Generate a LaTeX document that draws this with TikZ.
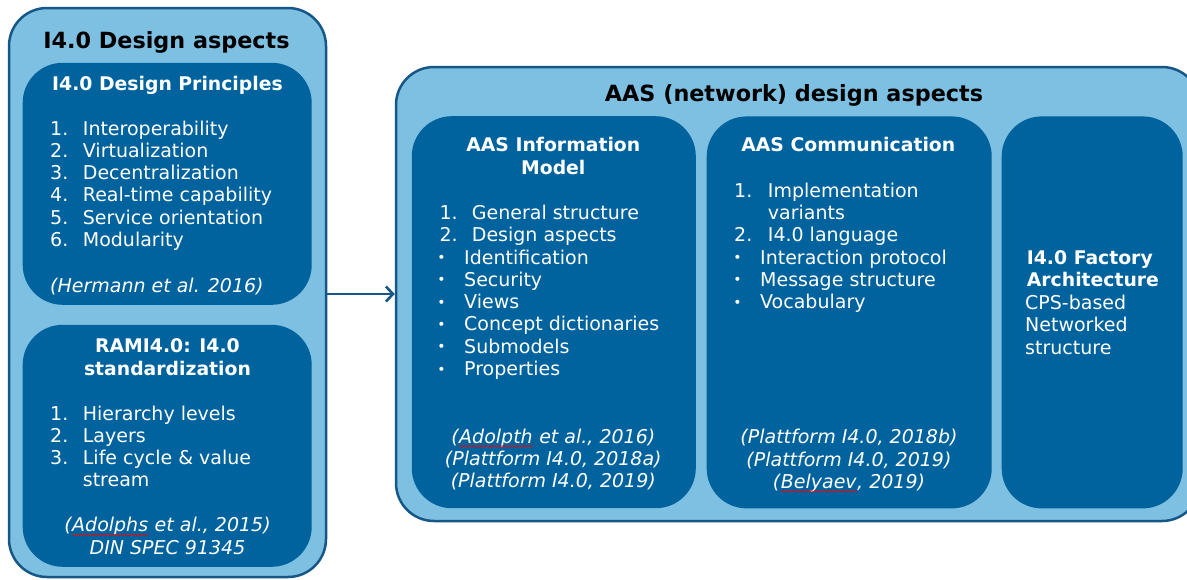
\documentclass[tikz,border=0pt]{standalone}
\usepackage{fontspec}
\setmainfont{DejaVu Sans}
\usetikzlibrary{arrows.meta,decorations.pathmorphing}

\definecolor{paneblue}{RGB}{126,192,225}
\definecolor{cardblue}{RGB}{0,99,158}
\definecolor{edgeblue}{RGB}{22,87,135}

% word flagged by the spell checker: white text, red wavy underline
\newcommand{\spellmark}[1]{\begin{tikzpicture}[baseline=(w.base)]
  \node[inner sep=0pt, text=white, anchor=base] (w) at (0,0) {#1};
  \draw[red, line width=0.6pt, decorate, decoration={snake, amplitude=0.7pt, segment length=3pt}]
    ([yshift=-3pt]w.base west) -- ([yshift=-3pt]w.base east);
\end{tikzpicture}}

\tikzset{
  pane/.style={draw=edgeblue, line width=2.5pt, fill=paneblue, rounded corners=38pt, inner sep=0pt},
  card/.style={fill=cardblue, rounded corners=40pt, inner sep=0pt},
  ttl/.style={font=\fontsize{22.3}{26}\selectfont\bfseries, text=black, inner sep=0pt, anchor=base},
  hdr/.style={font=\fontsize{18.8}{22.3}\selectfont\bfseries, text=white, inner sep=0pt, anchor=base},
  hdrl/.style={hdr, anchor=base west},
  txt/.style={font=\fontsize{19}{22.3}\selectfont, text=white, inner sep=0pt, anchor=base west},
  dot/.style={font=\fontsize{14}{14}\selectfont, text=white, inner sep=0pt, anchor=base},
  cite/.style={font=\fontsize{19}{22.3}\selectfont\itshape, text=white, inner sep=0pt, anchor=base},
  citel/.style={cite, anchor=base west},
  flow/.style={draw=edgeblue, line width=2.6pt, -{Straight Barb[length=7pt,width=15pt,line width=2.6pt]}},
}

\begin{document}
\begin{tikzpicture}[x=1pt,y=-1pt]
\fill[white] (0,0) rectangle (1187,579);
\useasboundingbox (0,0) rectangle (1187,579);

% ---------- left pane: I4.0 design aspects ----------
\node[pane, minimum width=317pt, minimum height=569pt] (lft) at (167.5,292.5) {};
\node[ttl] (lft-title) at (166.5,48.3) {I4.0 Design aspects};

\node[card, minimum width=289pt, minimum height=242pt] (dp) at (167.2,183.8) {};
\node[hdr] (dp-title) at (167.5,90) {I4.0 Design Principles};
\foreach \num/\item [count=\i from 0] in {1./Interoperability, 2./Virtualization, 3./Decentralization, 4./Real-time capability, 5./Service orientation, 6./Modularity} {
  \node[txt] (dp-n\i) at (50,{135+22.3*\i}) {\num};
  \node[txt] (dp-t\i) at (82.7,{135+22.3*\i}) {\item};
}
\node[citel] (dp-cite) at (50,292.7) {(Hermann et al. 2016)};

\node[card, minimum width=289pt, minimum height=242pt] (rami) at (167.2,445.8) {};
\node[hdr] (rami-title1) at (167.5,352.3) {RAMI4.0: I4.0};
\node[hdr] (rami-title2) at (167.5,375) {standardization};
\foreach \num/\item [count=\i from 0] in {1./Hierarchy levels, 2./Layers, 3./Life cycle \& value, /stream} {
  \node[txt] (rami-n\i) at (50,{420+22.3*\i}) {\num};
  \node[txt] (rami-t\i) at (82.7,{420+22.3*\i}) {\item};
}
\node[cite] (rami-cite1) at (167.5,531.7) {(\spellmark{Adolphs} et al., 2015)};
\node[cite] (rami-cite2) at (167.5,554) {DIN SPEC 91345};

% ---------- right pane: AAS (network) design aspects ----------
\node[pane, minimum width=804pt, minimum height=454pt] (rgt) at (798,294) {};
\node[ttl] (rgt-title) at (794,101.7) {AAS (network) design aspects};

% information model
\node[card, minimum width=284pt, minimum height=392pt] (im) at (553.8,312.2) {};
\node[hdr] (im-title1) at (553.3,151.7) {AAS Information};
\node[hdr] (im-title2) at (553.3,174.3) {Model};
\node[txt] (im-n1) at (439.3,219.3) {1.};
\node[txt] (im-t1) at (471.7,219.3) {General structure};
\node[txt] (im-n2) at (439.3,241.7) {2.};
\node[txt] (im-t2) at (471.7,241.7) {Design aspects};
\foreach \item [count=\i from 0] in {Identification, Security, Views, Concept dictionaries, Submodels, Properties} {
  \node[dot] (im-b\i) at (441.5,{262.5+22.3*\i}) {•};
  \node[txt] (im-s\i) at (464,{264+22.3*\i}) {\item};
}
\node[cite] (im-cite1) at (553.3,443.3) {(\spellmark{Adolpth} et al., 2016)};
\node[cite] (im-cite2) at (553.3,465.7) {(Plattform I4.0, 2018a)};
\node[cite] (im-cite3) at (553.3,487.9) {(Plattform I4.0, 2019)};

% communication
\node[card, minimum width=285pt, minimum height=392pt] (com) at (849.2,312.4) {};
\node[hdr] (com-title) at (848.3,151.7) {AAS Communication};
\node[txt] (com-n1) at (734,197.3) {1.};
\node[txt] (com-t1) at (767.7,197.3) {Implementation};
\node[txt] (com-t1b) at (767.7,219.5) {variants};
\node[txt] (com-n2) at (734,241.7) {2.};
\node[txt] (com-t2) at (767.7,241.7) {I4.0 language};
\foreach \item [count=\i from 0] in {Interaction protocol, Message structure, Vocabulary} {
  \node[dot] (com-b\i) at (737.5,{262.5+22.3*\i}) {•};
  \node[txt] (com-s\i) at (760,{264+22.3*\i}) {\item};
}
\node[cite] (com-cite1) at (849,443.3) {(Plattform I4.0, 2018b)};
\node[cite] (com-cite2) at (849,466) {(Plattform I4.0, 2019)};
\node[cite] (com-cite3) at (849,488.3) {(\spellmark{Belyaev}, 2019)};

% factory architecture
\node[card, minimum width=181pt, minimum height=392pt] (fac) at (1092.2,312.4) {};
\node[hdrl] (fac-title1) at (1026.7,264) {I4.0 Factory};
\node[hdrl] (fac-title2) at (1026.7,286.7) {Architecture};
\node[txt] (fac-t1) at (1025,309) {CPS-based};
\node[txt] (fac-t2) at (1025,331.5) {Networked};
\node[txt] (fac-t3) at (1025,354) {structure};

% ---------- link between the panes ----------
\draw[flow] (lft.east |- rgt.west) -- (rgt.west);
\end{tikzpicture}
\end{document}
